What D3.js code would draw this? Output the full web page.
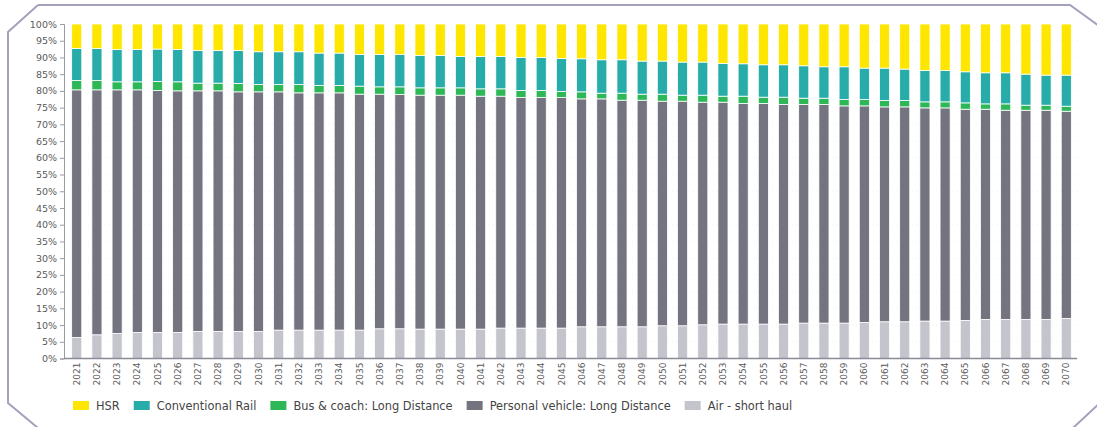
<!DOCTYPE html>
<html>
<head>
<meta charset="utf-8">
<script src="https://cdn.jsdelivr.net/npm/d3@7"></script>
<style>
  html, body { margin: 0; padding: 0; background: #ffffff; }
  svg { display: block; font-family: "DejaVu Sans", Verdana, sans-serif; }
</style>
</head>
<body>
<svg id="chart" width="1097" height="427"></svg>
<script>
// Long-distance travel mode share, 2021-2070 (% of trips)
const years = d3.range(2021, 2071).map(String);

const airShortHaul = [
  6.3, 7.1, 7.5, 7.8, 7.8, 7.8, 8.1, 8.1, 8.1, 8.1,
  8.5, 8.5, 8.5, 8.5, 8.5, 8.9, 8.9, 8.8, 8.8, 8.8,
  8.8, 9.1, 9.1, 9.1, 9.1, 9.5, 9.5, 9.5, 9.5, 9.8,
  9.8, 10.1, 10.3, 10.3, 10.3, 10.3, 10.6, 10.6, 10.6, 10.8,
  11.0, 11.0, 11.2, 11.2, 11.4, 11.7, 11.7, 11.7, 11.7, 12.0
];
const personalVehicle = [
  74.1, 73.3, 72.9, 72.6, 72.3, 72.3, 72.0, 72.0, 71.7, 71.7,
  71.3, 71.0, 71.0, 71.0, 70.6, 70.2, 70.1, 70.0, 70.0, 70.0,
  69.7, 69.4, 69.0, 69.0, 69.0, 68.2, 68.2, 67.8, 67.8, 67.2,
  67.2, 66.6, 66.4, 66.0, 66.0, 65.7, 65.4, 65.4, 65.0, 64.8,
  64.3, 64.3, 63.8, 63.8, 63.2, 62.9, 62.6, 62.6, 62.6, 62.0
];
const busCoach = [
  2.8, 2.8, 2.4, 2.4, 2.7, 2.7, 2.3, 2.3, 2.5, 2.2,
  2.2, 2.5, 2.2, 2.2, 2.4, 2.2, 2.3, 2.2, 2.2, 2.2,
  2.2, 2.2, 2.1, 2.1, 1.8, 2.1, 1.7, 2.1, 1.8, 2.1,
  1.8, 2.1, 1.8, 2.2, 1.9, 2.2, 1.9, 1.9, 1.9, 1.9,
  1.9, 1.9, 1.8, 1.8, 1.9, 1.6, 1.9, 1.5, 1.5, 1.5
];
const conventionalRail = [
  9.6, 9.6, 9.7, 9.7, 9.7, 9.7, 9.8, 9.8, 9.9, 9.8,
  9.8, 9.8, 9.7, 9.7, 9.5, 9.7, 9.7, 9.7, 9.7, 9.4,
  9.7, 9.7, 9.9, 9.9, 9.9, 9.9, 10.0, 10.0, 9.9, 9.9,
  9.9, 9.9, 9.8, 9.7, 9.7, 9.7, 9.7, 9.4, 9.8, 9.4,
  9.7, 9.4, 9.4, 9.4, 9.3, 9.3, 9.3, 9.3, 9.0, 9.3
];
const hsr = [
  7.3, 7.3, 7.6, 7.6, 7.5, 7.6, 7.9, 7.9, 7.9, 8.3,
  8.3, 8.3, 8.7, 8.7, 9.1, 9.1, 9.1, 9.4, 9.4, 9.7,
  9.7, 9.7, 10.0, 10.0, 10.3, 10.4, 10.7, 10.7, 11.1, 11.1,
  11.4, 11.4, 11.8, 11.9, 12.2, 12.2, 12.5, 12.8, 12.8, 13.2,
  13.2, 13.5, 13.9, 13.9, 14.3, 14.6, 14.6, 15.0, 15.3, 15.3
];

const yTicks = d3.range(0, 1.0001, 0.05);

// Series stacked bottom to top; legend lists them top to bottom
const series = [
  { key: "air", label: "Air - short haul", values: airShortHaul, color: "#C4C4CD" },
  { key: "pv", label: "Personal vehicle: Long Distance", values: personalVehicle, color: "#747480" },
  { key: "bus", label: "Bus & coach: Long Distance", values: busCoach, color: "#2DB757" },
  { key: "rail", label: "Conventional Rail", values: conventionalRail, color: "#27ACAA" },
  { key: "hsr", label: "HSR", values: hsr, color: "#FFE600" }
];

const rows = years.map((y, i) => {
  const r = { year: y };
  series.forEach(s => { r[s.key] = s.values[i]; });
  return r;
});

const svg = d3.select("#chart");

// Outer panel with clipped corners
svg.append("path")
  .attr("d", "M38,5 L1070,5 L1102,28 L1102,401 L1073,428 M38,428 L8,403 L8,32 L38,5")
  .attr("fill", "none")
  .attr("stroke", "#A3A1BC")
  .attr("stroke-width", 2);

const x = d3.scaleBand()
  .domain(years)
  .range([64, 1079])
  .paddingInner(0.5)
  .paddingOuter(0.38);

const y = d3.scaleLinear()
  .domain([0, 1])
  .range([358.5, 24]);

// Faint horizontal guides
svg.append("g")
  .selectAll("line")
  .data(yTicks.slice(1))
  .join("line")
  .attr("x1", 64).attr("x2", 1077)
  .attr("y1", d => y(d)).attr("y2", d => y(d))
  .attr("stroke", "#F1F1F4")
  .attr("stroke-width", 1)
  .attr("stroke-dasharray", "1,3");

const stack = d3.stack()
  .keys(series.map(s => s.key))
  .offset(d3.stackOffsetExpand);

const layers = stack(rows);

svg.append("g")
  .selectAll("g")
  .data(layers)
  .join("g")
  .attr("fill", (d, i) => series[i].color)
  .selectAll("rect")
  .data(d => d)
  .join("rect")
  .attr("x", d => x(d.data.year))
  .attr("width", x.bandwidth())
  .attr("y", d => y(d[1]))
  .attr("height", d => y(d[0]) - y(d[1]))
  .attr("stroke", "#ffffff")
  .attr("stroke-width", 0.8);

// Y axis
const yAxis = svg.append("g")
  .attr("transform", "translate(64,0)")
  .call(d3.axisLeft(y).tickValues(yTicks).tickFormat(d3.format(".0%")).tickSize(4).tickPadding(3));
yAxis.select(".domain").attr("stroke", "#9A9AA6");
yAxis.selectAll(".tick line").attr("stroke", "#9A9AA6");
yAxis.selectAll(".tick text")
  .attr("fill", "#5A5A5A")
  .style("font-size", "9.5px")
  .style("font-family", "'DejaVu Sans', Verdana, sans-serif");

// X axis
const xAxis = svg.append("g")
  .attr("transform", `translate(0,${y(0)})`)
  .call(d3.axisBottom(x).tickSize(0).tickSizeOuter(0));
xAxis.select(".domain").attr("stroke", "#8A8A98").attr("stroke-width", 1.5)
  .attr("d", `M64,0H1077`);
xAxis.selectAll(".tick text")
  .attr("transform", "rotate(-90)")
  .attr("text-anchor", "end")
  .attr("x", -4)
  .attr("y", 0)
  .attr("dy", "0.35em")
  .attr("fill", "#5A5A5A")
  .style("font-size", "9px")
  .style("font-family", "'DejaVu Sans', Verdana, sans-serif");

// Legend
const legend = svg.append("g").attr("transform", "translate(73,401)");
let lx = 0;
series.slice().reverse().forEach(s => {
  const g = legend.append("g").attr("transform", `translate(${lx},0)`);
  g.append("rect")
    .attr("width", 16).attr("height", 9)
    .attr("fill", s.color);
  const t = g.append("text")
    .attr("x", 23).attr("y", 4.5)
    .attr("dy", "0.35em")
    .attr("fill", "#444444")
    .style("font-size", "11.4px")
    .text(s.label);
  lx += 23 + t.node().getComputedTextLength() + 14;
});
</script>
</body>
</html>
